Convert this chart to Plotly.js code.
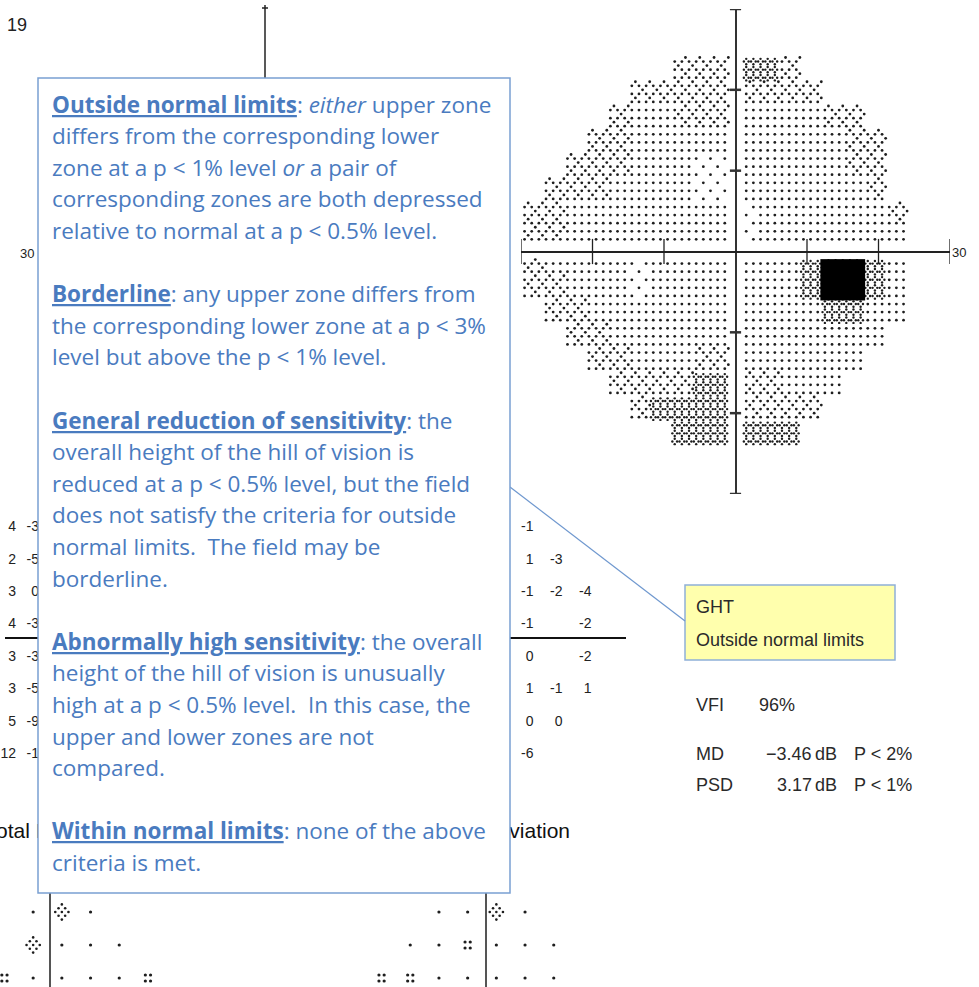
<!DOCTYPE html>
<html><head><meta charset="utf-8">
<script src="https://cdn.plot.ly/plotly-3.0.1.min.js"></script>
<style>html,body{margin:0;padding:0;background:#fff}#chart{width:979px;height:987px}</style>
</head><body><div id="chart"></div>
<script>
// ================= DATA =================
// Gray-scale field, one symbol per 3°x3° block. Rows: +24° (top) .. -24°, cols: -30° (left) .. +24°
// '.' none, 'a' light, 'b' normal, 'c' denser, 'd' checker, 'e' black
const fieldLevels = [
  ".......cccddc.....",
  ".....ccccccccc....",
  "....cbbcccbbbbcc..",
  "...ccbbbbbbbbbbcc.",
  "..cccbbbaabbbbbcc.",
  ".cccbbbbaabbbbbbc.",
  "ccbbbbbbbbabbbbbbc",
  "ccbbbbbbbbabbbbbbb",
  "cbbbbabbbbbbbdeedb",
  "ccbbbabbbbbbbdeedb",
  ".ccbbbbbbbbbbbddbb",
  "..ccbbbbbbbbbbbbb.",
  "...ccbbbccbbbbbb..",
  "....ccccddccbbb...",
  ".....cddddcccc....",
  ".......dddddd....."
];
const fieldTopDeg = 24, fieldLeftDeg = -30, blockDeg = 3;
const axisTickDeg = [-30, -20, -10, 10, 20, 30];

// Deviation number plots (rows in degrees, top to bottom)
const devRowsDeg = [21, 15, 9, 3, -3, -9, -15, -21];
const patternColsDeg = [9, 15, 21];
const patternDev = [
  ["-1"], ["1", "-3"], ["-1", "-2", "-4"], ["-1", "", "-2"],
  ["0", "", "-2"], ["1", "-1", "1"], ["0", "0"], ["-6"]
];
const totalDevColA = ["4", "2", "3", "4", "3", "3", "5", "12"];
const totalDevColB = ["-3", "-5", "0", "-3", "-3", "-5", "-9", "-1"];

// Probability symbol plots: '.' normal, ':' p<5%, 'x' checker; columns start at index -4
const probColStart = -4;
const totalProb   = ["   .x.  ", "   x... ", "  :....:"];
const patternProb = ["  ..x.  ", " ..:... ", "::..... "];

const ghtTitle = "GHT", ghtResult = "Outside normal limits";
const vfiValue = "96%";
const mdValue = "−3.46", mdProb = "P &lt; 2%";
const psdValue = "3.17", psdProb = "P &lt; 1%";

const boxLines = [
  "<b><u>Outside normal limits</u></b>: <i>either</i> upper zone",
  "differs from the corresponding lower",
  "zone at a p &lt; 1% level <i>or</i> a pair of",
  "corresponding zones are both depressed",
  "relative to normal at a p &lt; 0.5% level.",
  "",
  "<b><u>Borderline</u></b>: any upper zone differs from",
  "the corresponding lower zone at a p &lt; 3%",
  "level but above the p &lt; 1% level.",
  "",
  "<b><u>General reduction of sensitivity</u></b>: the",
  "overall height of the hill of vision is",
  "reduced at a p &lt; 0.5% level, but the field",
  "does not satisfy the criteria for outside",
  "normal limits.&nbsp; The field may be",
  "borderline.",
  "",
  "<b><u>Abnormally high sensitivity</u></b>: the overall",
  "height of the hill of vision is unusually",
  "high at a p &lt; 0.5% level.&nbsp; In this case, the",
  "upper and lower zones are not",
  "compared.",
  "",
  "<b><u>Within normal limits</u></b>: none of the above",
  "criteria is met."
];

// ================= LAYOUT CONSTANTS =================
const W = 979, H = 987;
const INK = '#1e1e1e';
const BLUE = '#4a7bbf';
const BOXLINE = '#7aa0d2';
const numFont = {family: "'Liberation Sans Narrow','Arial Narrow','Liberation Sans',Arial,sans-serif", size: 14, color: '#222'};
const txtFont = {family: "'Liberation Sans',Arial,sans-serif", size: 18, color: '#2a2a2a'};

// ================= BUILD FIELD =================
const dotX = [], dotY = [], fineX = [], fineY = [], blkX = [], blkY = [];
const ring = [[-0.33, 0], [0.33, 0], [0, -0.33], [0, 0.33]];
fieldLevels.forEach((row, r) => {
  for (let c = 0; c < row.length; c++) {
    const lv = row[c];
    if (lv === '.') continue;
    for (let i = 0; i < 3; i++) for (let j = 0; j < 3; j++) {
      const sx = fieldLeftDeg + c * blockDeg + i + 0.5;
      const sy = fieldTopDeg - r * blockDeg - j - 0.5;
      if (Math.abs(sx) < 1 || Math.abs(sy) < 1) continue;
      const even = ((c * 3 + i) + (r * 3 + j)) % 2 === 0;
      if (lv === 'a') { if (even) { dotX.push(sx); dotY.push(sy); } }
      else if (lv === 'b') { dotX.push(sx); dotY.push(sy); }
      else if (lv === 'c') { dotX.push(sx); dotY.push(sy); if (even) { dotX.push(sx + 0.5); dotY.push(sy + 0.5); } }
      else if (lv === 'd') { ring.forEach(o => { fineX.push(sx + o[0]); fineY.push(sy + o[1]); }); }
      else if (lv === 'e') { blkX.push(sx); blkY.push(sy); }
    }
  }
});

// ================= DEVIATION NUMBERS (pixel axis) =================
const devCx = 490, devCy = 641, devSx = 4.83, devSy = 5.4;
const pdX = [], pdY = [], pdT = [];
patternDev.forEach((vals, r) => vals.forEach((v, k) => {
  if (!v) return;
  pdX.push(devCx + patternColsDeg[k] * devSx); pdY.push(devCy - devRowsDeg[r] * devSy); pdT.push(v);
}));
const tdColAx = 16, tdColBx = 39;
const tdY = devRowsDeg.map(d => devCy - d * devSy);

// ================= PROBABILITY SYMBOLS =================
const probColPx = 28.7, probRow0 = 912, probRowPx = 33;
const pDotX = [], pDotY = [], pChkX = [], pChkY = [];
function addProb(rows, centerPx) {
  rows.forEach((s, r) => {
    for (let k = 0; k < s.length; k++) {
      const ch = s[k]; if (ch === ' ') continue;
      const px = centerPx + (probColStart + k + 0.5) * probColPx;
      const py = probRow0 + r * probRowPx;
      if (ch === '.') { pDotX.push(px); pDotY.push(py); }
      else if (ch === ':') { for (const ox of [-2.6, 2.6]) for (const oy of [-3, 3]) { pDotX.push(px + ox); pDotY.push(py + oy); } }
      else if (ch === 'x') { for (let a = -2; a <= 2; a++) for (let b = -2; b <= 2; b++) if ((a + b + 4) % 2 === 0 && Math.abs(a) + Math.abs(b) < 4) { pChkX.push(px + a * 3.3); pChkY.push(py + b * 3.8); } }
    }
  });
}
const totalProbCenter = 47.5, patternProbCenter = 482;
addProb(totalProb, totalProbCenter);
addProb(patternProb, patternProbCenter);

// ================= TRACES =================
const traces = [
  {x: dotX, y: dotY, xaxis: 'x2', yaxis: 'y2', type: 'scatter', mode: 'markers', hoverinfo: 'skip',
   marker: {symbol: 'circle', size: 2.8, color: INK, line: {width: 0}}},
  {x: fineX, y: fineY, xaxis: 'x2', yaxis: 'y2', type: 'scatter', mode: 'markers', hoverinfo: 'skip',
   marker: {symbol: 'circle', size: 2.4, color: INK, line: {width: 0}}},
  {x: blkX, y: blkY, xaxis: 'x2', yaxis: 'y2', type: 'scatter', mode: 'markers', hoverinfo: 'skip',
   marker: {symbol: 'square', size: 9, color: '#000', line: {width: 0}}},
  {x: axisTickDeg, y: axisTickDeg.map(() => 0), xaxis: 'x2', yaxis: 'y2', type: 'scatter', mode: 'markers', hoverinfo: 'skip',
   marker: {symbol: 'line-ns', size: 18, color: '#222', line: {width: 1.3, color: '#222'}}},
  {x: axisTickDeg.map(() => 0), y: axisTickDeg, xaxis: 'x2', yaxis: 'y2', type: 'scatter', mode: 'markers', hoverinfo: 'skip',
   marker: {symbol: 'line-ew', size: 8, color: '#333', line: {width: 2.5, color: '#333'}}},
  {x: pdX, y: pdY, text: pdT, type: 'scatter', mode: 'text', textposition: 'middle left', textfont: numFont, hoverinfo: 'skip'},
  {x: tdY.map(() => tdColAx), y: tdY, text: totalDevColA, type: 'scatter', mode: 'text', textposition: 'middle left', textfont: numFont, hoverinfo: 'skip'},
  {x: tdY.map(() => tdColBx), y: tdY, text: totalDevColB, type: 'scatter', mode: 'text', textposition: 'middle left', textfont: numFont, hoverinfo: 'skip'},
  {x: pDotX, y: pDotY, type: 'scatter', mode: 'markers', hoverinfo: 'skip', marker: {size: 3.2, color: INK, line: {width: 0}}},
  {x: pChkX, y: pChkY, type: 'scatter', mode: 'markers', hoverinfo: 'skip', marker: {size: 2.6, color: INK, line: {width: 0}}},
  {x: [-14.5], y: [833], text: ['Total Deviation'], type: 'scatter', mode: 'text', textposition: 'middle right',
   textfont: {family: txtFont.family, size: 21, color: '#111'}, hoverinfo: 'skip'},
  {x: [570], y: [833], text: ['Pattern Deviation'], type: 'scatter', mode: 'text', textposition: 'middle left',
   textfont: {family: txtFont.family, size: 21, color: '#111'}, hoverinfo: 'skip'}
];

// ================= SHAPES =================
const shapes = [
  {type: 'line', xref: 'x', yref: 'y', x0: 5, x1: 626, y0: 638, y1: 638, line: {color: '#111', width: 2}},
  {type: 'line', xref: 'x', yref: 'y', x0: 50, x1: 50, y0: 893, y1: 990, line: {color: '#555', width: 2}},
  {type: 'line', xref: 'x', yref: 'y', x0: 486, x1: 486, y0: 893, y1: 990, line: {color: '#555', width: 2}},
  {type: 'line', xref: 'x', yref: 'y', x0: 265, x1: 265, y0: 5, y1: 80, line: {color: '#222', width: 1.5}},
  {type: 'line', xref: 'x', yref: 'y', x0: 262, x1: 268, y0: 8, y1: 8, line: {color: '#222', width: 1.5}},
  {type: 'rect', xref: 'x', yref: 'y', x0: 685, x1: 895, y0: 585, y1: 660, fillcolor: '#ffffad', line: {color: '#8fb0d8', width: 1.5}},
  {type: 'line', xref: 'x', yref: 'y', x0: 510, x1: 685, y0: 487, y1: 621, line: {color: '#6f98cf', width: 1.2}},
  {type: 'rect', xref: 'x', yref: 'y', x0: 38, x1: 510, y0: 78, y1: 893, fillcolor: '#ffffff', line: {color: BOXLINE, width: 1.5}}
];

// ================= ANNOTATIONS =================
function ann(text, x, y, xanchor, font) {
  return {text, x, y, xref: 'x', yref: 'y', xanchor, yanchor: 'middle', showarrow: false, font, borderpad: 0};
}
const annotations = [
  ann('19', 6, 25, 'left', {family: txtFont.family, size: 18, color: '#222'}),
  ann('30', 35, 253, 'right', {family: txtFont.family, size: 13, color: '#222'}),
  ann('30', 951, 252, 'left', {family: txtFont.family, size: 13, color: '#222'}),
  ann(ghtTitle, 695, 607, 'left', txtFont),
  ann(ghtResult, 695, 640, 'left', txtFont),
  ann('VFI', 695, 705, 'left', txtFont),
  ann(vfiValue, 758, 705, 'left', txtFont),
  ann('MD', 695, 754, 'left', txtFont),
  ann(mdValue, 813, 754, 'right', txtFont),
  ann('dB', 814, 754, 'left', txtFont),
  ann(mdProb, 853, 754, 'left', txtFont),
  ann('PSD', 695, 785, 'left', txtFont),
  ann(psdValue, 813, 785, 'right', txtFont),
  ann('dB', 814, 785, 'left', txtFont),
  ann(psdProb, 853, 785, 'left', txtFont)
];
const boxFont = {family: "'Open Sans','Noto Sans',Lato,sans-serif", size: 22.5, color: BLUE};
const boxLine0 = 104, boxLineStep = 31.6;
boxLines.forEach((t, i) => { if (t) annotations.push(ann(t, 51, boxLine0 + i * boxLineStep, 'left', boxFont)); });

// ================= LAYOUT =================
const hiddenAxis = {visible: false, showgrid: false, zeroline: false, fixedrange: true};
const layout = {
  width: W, height: H, margin: {l: 0, r: 0, t: 0, b: 0, pad: 0},
  paper_bgcolor: '#ffffff', plot_bgcolor: 'rgba(0,0,0,0)', showlegend: false,
  xaxis: Object.assign({domain: [0, 1], range: [0, W], anchor: 'y'}, hiddenAxis),
  yaxis: Object.assign({domain: [0, 1], range: [H, 0], anchor: 'x'}, hiddenAxis),
  xaxis2: {domain: [521 / W, 950 / W], range: [-30, 30], anchor: 'y2', showgrid: false, showticklabels: false, ticks: '',
           showline: false, zeroline: true, zerolinecolor: '#333', zerolinewidth: 2, fixedrange: true},
  yaxis2: {domain: [(H - 494) / H, (H - 9) / H], range: [-30, 30], anchor: 'x2', showgrid: false, showticklabels: false, ticks: '',
           showline: false, zeroline: true, zerolinecolor: '#222', zerolinewidth: 2, fixedrange: true},
  shapes, annotations
};
Plotly.newPlot('chart', traces, layout, {displayModeBar: false, staticPlot: true});
</script>
</body></html>
